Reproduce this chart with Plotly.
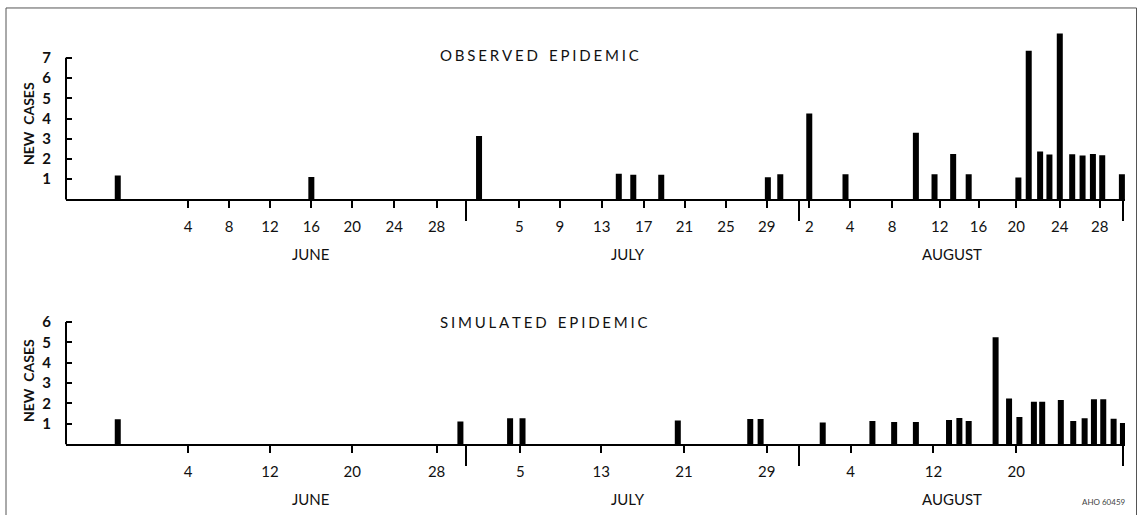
import plotly.graph_objects as go

# ---------------- data ----------------
# x positions are on a running day scale (0 = 31 May)
obs_day = [-2.7, 16.0, 32.2, 45.7, 47.1, 49.8, 60.1, 61.3, 64.1, 67.6, 74.4, 76.2,
           78.0, 79.5, 84.3, 85.3, 86.4, 87.3, 88.3, 89.5, 90.5, 91.5, 92.4, 94.3]
obs_cases = [1.19, 1.11, 3.14, 1.27, 1.22, 1.22, 1.10, 1.25, 4.25, 1.25, 3.30, 1.25,
             2.25, 1.25, 1.09, 7.35, 2.37, 2.22, 8.20, 2.24, 2.17, 2.25, 2.19, 1.25]

sim_day = [-2.7, 30.4, 35.2, 36.4, 51.4, 58.4, 59.4, 65.4, 70.2, 72.3, 74.4, 77.6,
           78.6, 79.5, 82.1, 83.4, 84.4, 85.8, 86.6, 88.4, 89.6, 90.7, 91.6, 92.5,
           93.5, 94.4]
sim_cases = [1.22, 1.12, 1.27, 1.27, 1.16, 1.24, 1.24, 1.07, 1.14, 1.09, 1.09, 1.19,
             1.29, 1.14, 5.25, 2.24, 1.34, 2.08, 2.08, 2.17, 1.14, 1.27, 2.21, 2.21,
             1.25, 1.04]

obs_tick_pos = [4.1, 8.05, 12.0, 16.0, 19.95, 24.0, 28.1,
                36.1, 40.0, 44.05, 48.1, 52.05, 56.05, 60.0,
                64.1, 68.05, 72.1, 76.7, 80.45, 84.1, 88.3, 92.15]
obs_tick_text = ["4", "8", "12", "16", "20", "24", "28",
                 "5", "9", "13", "17", "21", "25", "29",
                 "2", "4", "8", "12", "16", "20", "24", "28"]

sim_tick_pos = [4.1, 12.0, 19.95, 28.1, 36.2, 44.0, 52.0, 60.0, 68.1, 76.1, 84.1]
sim_tick_text = ["4", "12", "20", "28", "5", "13", "21", "29", "4", "12", "20"]

month_sep = [30.95, 63.1, 94.45]
months = ["JUNE", "JULY", "AUGUST"]
month_center = [16.0, 46.6, 77.9]

obs_yticks = [1, 2, 3, 4, 5, 6, 7]
sim_yticks = [1, 2, 3, 4, 5, 6]

# ---------------- figure ----------------
W, H = 1142, 515
XR = [-7.7, 94.6]
FONT = "Lato, 'Open Sans', sans-serif"
DY = 3  # vertical correction in pixels

fig = go.Figure()
fig.add_trace(go.Bar(x=obs_day, y=obs_cases, width=0.58, marker=dict(color="black", line=dict(width=0)),
                     xaxis="x", yaxis="y", hoverinfo="skip"))
fig.add_trace(go.Bar(x=sim_day, y=sim_cases, width=0.58, marker=dict(color="black", line=dict(width=0)),
                     xaxis="x2", yaxis="y2", hoverinfo="skip"))

def px_y(p):
    return 1 - (p - DY) / H

dom_x = [66 / W, 1125 / W]
top_ymax = 8.4
bot_ymax = 6.3
top_dom = [px_y(200), px_y(200 - top_ymax * 20.4)]
bot_dom = [px_y(446.6), px_y(446.6 - bot_ymax * 20.5)]

def xaxis(ticks_pos, ticks_text, anchor):
    return dict(domain=dom_x, range=XR, anchor=anchor, showgrid=False, zeroline=False,
                showline=True, linecolor="black", linewidth=2,
                tickmode="array", tickvals=ticks_pos, ticktext=ticks_text,
                ticks="outside", ticklen=7, tickwidth=1.5, tickcolor="black",
                ticklabelstandoff=6,
                tickfont=dict(family=FONT, size=15, color="#111"),
                minor=dict(tickmode="array", tickvals=month_sep, ticks="outside",
                           ticklen=20, tickwidth=1.5, tickcolor="black", showgrid=False),
                fixedrange=True)

def yaxis(dom, ymax, ticks, anchor):
    return dict(domain=dom, range=[0, ymax], anchor=anchor, showgrid=False, zeroline=False,
                showline=False, tickmode="array", tickvals=ticks,
                ticktext=[str(t) for t in ticks],
                ticks="inside", ticklen=6, tickwidth=1.5, tickcolor="black",
                ticklabelstandoff=14,
                tickfont=dict(family=FONT, size=15, color="#111", weight=700),
                fixedrange=True)

fig.update_layout(
    width=W, height=H, margin=dict(l=0, r=0, t=0, b=0),
    paper_bgcolor="white", plot_bgcolor="white", showlegend=False,
    xaxis=xaxis(obs_tick_pos, obs_tick_text, "y"),
    yaxis=yaxis(top_dom, top_ymax, obs_yticks, "x"),
    xaxis2=xaxis(sim_tick_pos, sim_tick_text, "y2"),
    yaxis2=yaxis(bot_dom, bot_ymax, sim_yticks, "x2"),
)

# y-axis lines (stop at the top tick)
fig.add_shape(type="line", xref="x domain", yref="y domain", x0=0, x1=0, y0=0,
              y1=max(obs_yticks) / top_ymax, line=dict(color="black", width=2))
fig.add_shape(type="line", xref="x2 domain", yref="y2 domain", x0=0, x1=0, y0=0,
              y1=max(sim_yticks) / bot_ymax, line=dict(color="black", width=2))

# frame
fig.add_shape(type="rect", xref="paper", yref="paper", x0=6 / W, x1=1136.5 / W,
              y0=-0.05, y1=px_y(7), line=dict(color="#555", width=1))

def spaced(s):
    return "\u2003".join("\u2009\u200a".join(list(w)) for w in s.split(" "))

TXT = dict(showarrow=False, xanchor="center", yanchor="middle")
ann = []
ann.append(dict(text=spaced("OBSERVED EPIDEMIC"), x=38.0, xref="x", y=px_y(54), yref="paper",
                font=dict(family=FONT, size=15, color="#111"), **TXT))
ann.append(dict(text=spaced("SIMULATED EPIDEMIC"), x=38.5, xref="x", y=px_y(323), yref="paper",
                font=dict(family=FONT, size=15, color="#111"), **TXT))
for yy in (px_y(124), px_y(383)):
    ann.append(dict(text="NEW  CASES", x=28 / W, xref="paper", y=yy, yref="paper",
                    textangle=-90,
                    font=dict(family=FONT, size=14, color="#111", weight=700), **TXT))
for m, c in zip(months, month_center):
    ann.append(dict(text=m, x=c, xref="x", y=px_y(255), yref="paper",
                    font=dict(family=FONT, size=15, color="#111"), **TXT))
    ann.append(dict(text=m, x=c, xref="x2", y=px_y(502), yref="paper",
                    font=dict(family=FONT, size=15, color="#111"), **TXT))
ann.append(dict(text="AHO 60459", x=1104 / W, xref="paper", y=px_y(505), yref="paper",
                font=dict(family=FONT, size=8, color="#444"), **TXT))
fig.update_layout(annotations=ann)

fig.write_html("out.html", config={"displayModeBar": False},
               post_script="document.body.style.margin='0';document.body.style.padding='0';")
